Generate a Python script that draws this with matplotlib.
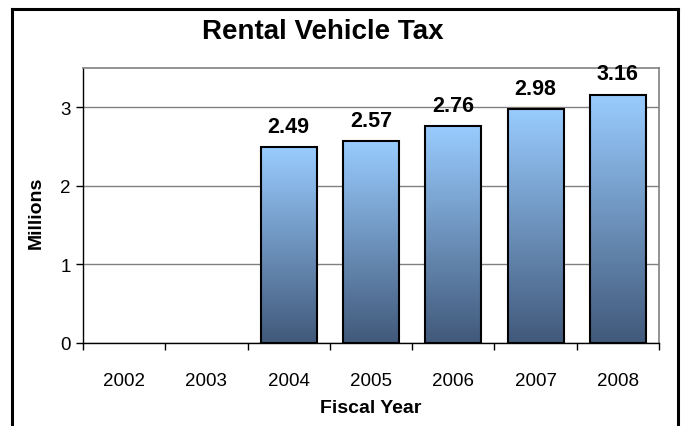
import numpy as np
import matplotlib.pyplot as plt
from matplotlib.colors import LinearSegmentedColormap
from matplotlib.lines import Line2D

plt.rcParams['font.family'] = ['Liberation Sans', 'DejaVu Sans']

years = ['2002', '2003', '2004', '2005', '2006', '2007', '2008']
revenue = [np.nan, np.nan, 2.49, 2.57, 2.76, 2.98, 3.16]   # millions

fig = plt.figure(figsize=(6.82, 4.27), dpi=100)
ax = fig.add_axes([83 / 682, 83 / 427, 576 / 682, 275 / 427])

x = np.arange(len(years))

# vertical gradient, dark at the base and light blue at the top
cmap = LinearSegmentedColormap.from_list('bar', ['#41597A', '#99CCFF'])
grad = np.linspace(0, 1, 256).reshape(-1, 1)

bars = ax.bar(x, np.nan_to_num(revenue), width=0.68, facecolor='none',
              edgecolor='black', linewidth=1.5, zorder=3)
for b, v in zip(bars, revenue):
    if np.isnan(v):
        b.set_visible(False)
        continue
    x0, w, h = b.get_x(), b.get_width(), b.get_height()
    im = ax.imshow(grad, cmap=cmap, origin='lower', aspect='auto',
                   extent=[x0, x0 + w, 0, h], zorder=2)
    im.set_clip_path(b)
    ax.annotate(f'{v:.2f}', (x0 + w / 2, h), xytext=(0, 11),
                textcoords='offset points', ha='center', va='baseline',
                fontsize=15.5, fontweight='bold', zorder=5)
ax.set_xlim(-0.5, len(years) - 0.5)
ax.set_ylim(0, 3.5)

# ticks between categories, labels at the centres
ax.set_xticks(np.arange(-0.5, len(years), 1.0))
ax.set_xticklabels([])
ax.set_xticks(x, minor=True)
ax.set_xticklabels(years, minor=True)
ax.tick_params(axis='x', which='major', direction='out', length=5, width=1, color='black')
ax.tick_params(axis='x', which='minor', length=0, pad=21, labelsize=13.5)
ax.set_yticks([0, 1, 2, 3])
ax.tick_params(axis='y', direction='out', length=5, width=1, labelsize=13.5, pad=4)

ax.grid(axis='y', color='#808080', linewidth=1, zorder=1)
ax.set_axisbelow(True)
for side in ['top', 'right']:
    ax.spines[side].set_color('#808080')
    ax.spines[side].set_linewidth(1.2)
for side in ['left', 'bottom']:
    ax.spines[side].set_color('black')
    ax.spines[side].set_linewidth(1)

ax.set_xlabel('Fiscal Year', fontsize=14, fontweight='bold')
ax.xaxis.set_label_coords(0.5, -(409 - 344) / 275)
ax.xaxis.label.set_va('center')
ax.set_ylabel('Millions', fontsize=14, fontweight='bold')
ax.yaxis.set_label_coords((36 - 83) / 576, (344 - 213) / 275)
ax.yaxis.label.set_va('center')

fig.text(323 / 682, 1 - 32 / 427, 'Rental Vehicle Tax', ha='center', va='center',
         fontsize=20, fontweight='bold')

# chart frame (open at the bottom)
lw = 2.2
fig.add_artist(Line2D([12 / 682, 12 / 682], [0, 1 - 10 / 427], color='black', lw=lw))
fig.add_artist(Line2D([12 / 682, 678 / 682], [1 - 10 / 427, 1 - 10 / 427], color='black', lw=lw))
fig.add_artist(Line2D([678 / 682, 678 / 682], [0, 1 - 10 / 427], color='black', lw=lw))

fig.savefig('out.png', dpi=100)
